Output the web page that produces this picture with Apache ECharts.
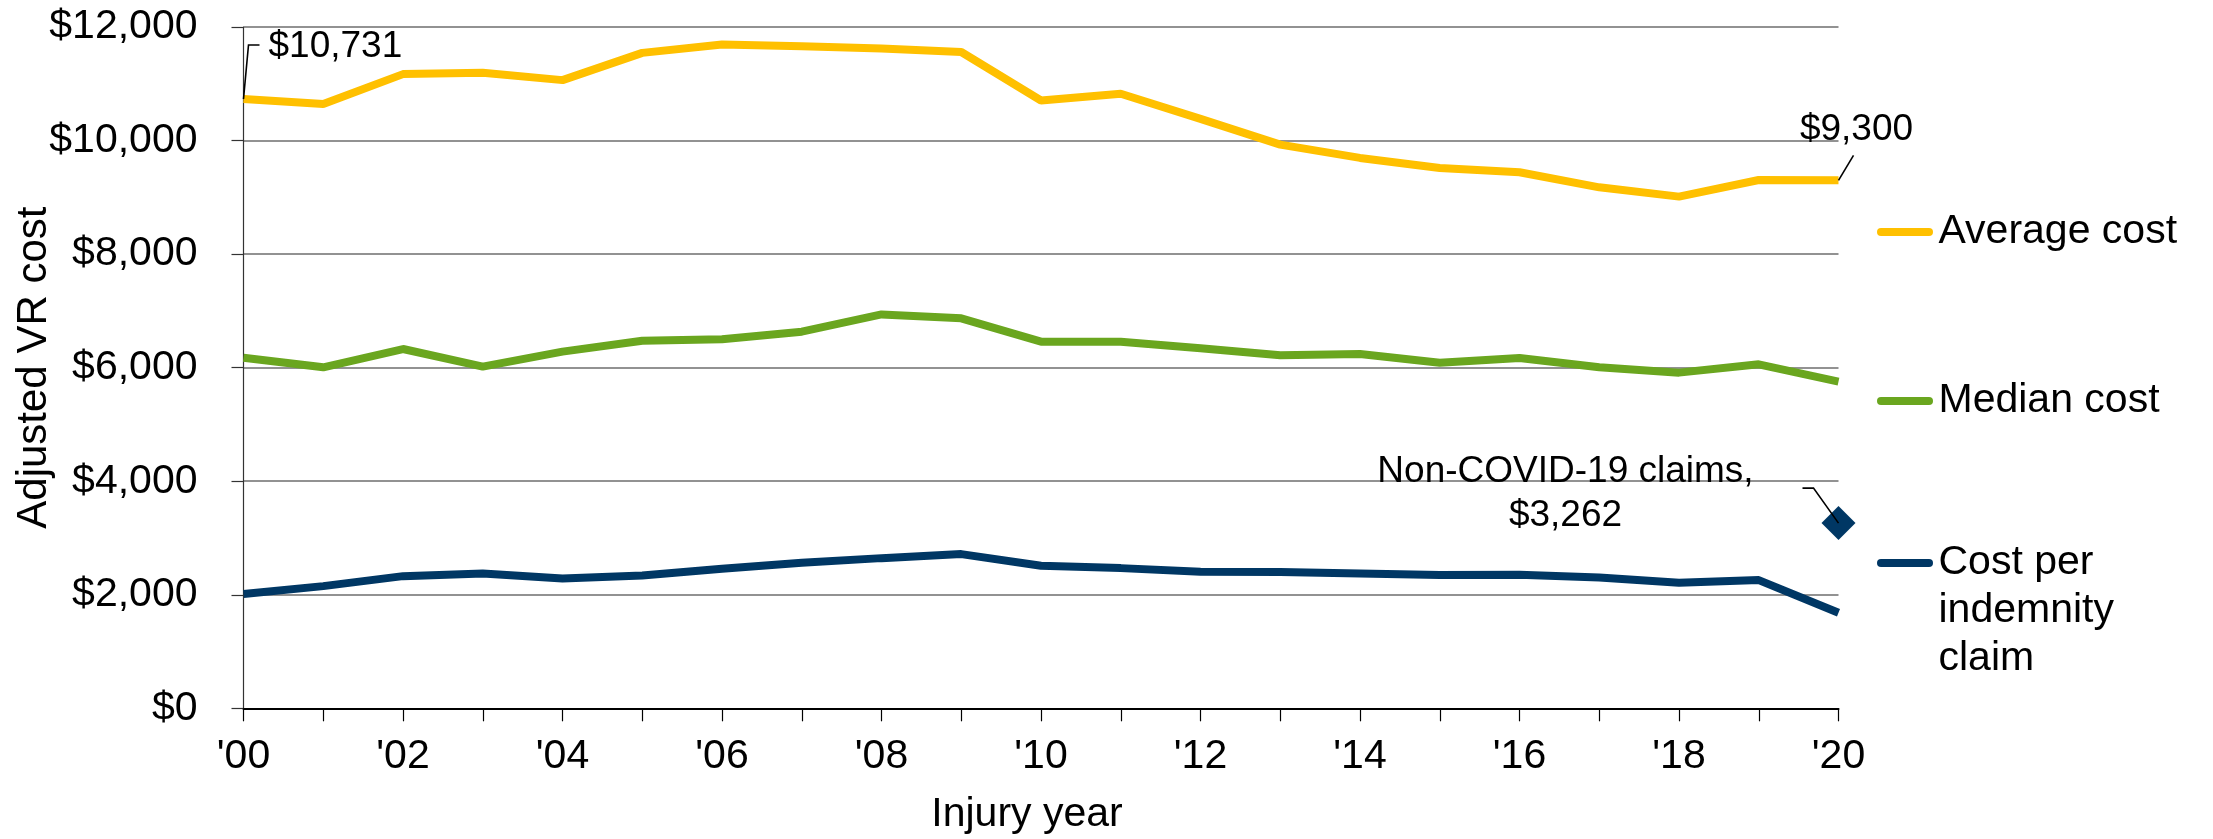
<!DOCTYPE html>
<html>
<head>
<meta charset="utf-8">
<script src="https://cdn.jsdelivr.net/npm/echarts@6/dist/echarts.min.js"></script>
<style>
  html, body { margin: 0; padding: 0; background: #fff; }
  #chart { width: 2213px; height: 839px; }
</style>
</head>
<body>
<div id="chart"></div>
<script>
var years = ["'00", "'01", "'02", "'03", "'04", "'05", "'06", "'07", "'08", "'09", "'10",
             "'11", "'12", "'13", "'14", "'15", "'16", "'17", "'18", "'19", "'20"];
var avgCost = [10731, 10643, 11170, 11193, 11064, 11544, 11690, 11661, 11620, 11559, 10706,
               10824, 10382, 9929, 9694, 9518, 9441, 9176, 9012, 9305, 9300];
var medianCost = [6176, 6006, 6328, 6018, 6282, 6475, 6499, 6634, 6938, 6868, 6457,
                  6457, 6340, 6217, 6240, 6088, 6170, 6006, 5912, 6059, 5754];
var costPerClaim = [2012, 2152, 2328, 2375, 2287, 2340, 2457, 2563, 2645, 2716, 2510,
                    2469, 2405, 2399, 2375, 2346, 2352, 2305, 2211, 2258, 1683];
var nonCovidYear = "'20";
var nonCovidValue = 3262;
var yTicks = [0, 2000, 4000, 6000, 8000, 10000, 12000];

var FONT = 'Liberation Sans, Arial, sans-serif';
var YELLOW = '#FFC000', GREEN = '#6AA61F', NAVY = '#003764';

function money(v) {
    return '$' + v.toLocaleString('en-US');
}

var myChart = echarts.init(document.getElementById('chart'));

// legend icon: short line with round ends
var lineIcon = 'path://M4,0L52,0A4,4,0,0,1,52,8L4,8A4,4,0,0,1,4,0Z';
function legendAt(name, top) {
    return {
        data: [name],
        orient: 'vertical',
        left: 1877,
        top: top,
        padding: 0,
        icon: lineIcon,
        itemWidth: 57,
        itemHeight: 8,
        selectedMode: false,
        textStyle: { fontFamily: FONT, fontSize: 41, color: '#000', lineHeight: 48 },
        formatter: function (n) {
            // two blank lines keep the icon next to the first line of the 3-line label
            if (n === 'Cost per indemnity claim') return '\n\nCost per\nindemnity\nclaim';
            return n;
        }
    };
}

var option = {
    animation: false,
    backgroundColor: '#fff',
    grid: { left: 243.5, right: 374.5, top: 27, bottom: 130.7, outerBoundsMode: 'none' },
    legend: [
        legendAt('Average cost', 208),
        legendAt('Median cost', 377),
        legendAt('Cost per indemnity claim', 443)
    ],
    xAxis: {
        type: 'category',
        data: years,
        boundaryGap: false,
        name: 'Injury year',
        nameLocation: 'middle',
        nameGap: 86,
        nameMoveOverlap: false,
        nameTextStyle: { fontFamily: FONT, fontSize: 41, color: '#000', padding: [0, 28, 0, 0] },
        axisLine: { lineStyle: { color: '#000', width: 2 } },
        axisTick: { interval: 0, length: 13, lineStyle: { color: '#000', width: 1.2 } },
        axisLabel: { interval: 1, margin: 28, fontFamily: FONT, fontSize: 41, color: '#000' },
        splitLine: { show: false }
    },
    yAxis: {
        type: 'value',
        min: yTicks[0],
        max: yTicks[yTicks.length - 1],
        interval: yTicks[1] - yTicks[0],
        name: 'Adjusted VR cost',
        nameLocation: 'middle',
        nameGap: 188,
        nameMoveOverlap: false,
        nameTextStyle: { fontFamily: FONT, fontSize: 42, color: '#000' },
        axisLine: { show: true, lineStyle: { color: '#333', width: 1.2 } },
        axisTick: { show: true, length: 12, lineStyle: { color: '#333', width: 1.2 } },
        axisLabel: { margin: 46, fontFamily: FONT, fontSize: 41, color: '#000', formatter: money },
        splitLine: { lineStyle: { color: '#6e6e6e', width: 1.5 } }
    },
    series: [
        {
            name: 'Average cost',
            type: 'line',
            data: avgCost,
            color: YELLOW,
            showSymbol: false,
            lineStyle: { color: YELLOW, width: 8 }
        },
        {
            name: 'Median cost',
            type: 'line',
            data: medianCost,
            color: GREEN,
            showSymbol: false,
            lineStyle: { color: GREEN, width: 8 }
        },
        {
            name: 'Cost per indemnity claim',
            type: 'line',
            data: costPerClaim,
            color: NAVY,
            showSymbol: false,
            lineStyle: { color: NAVY, width: 8 }
        },
        {
            name: 'Non-COVID-19 claims',
            type: 'scatter',
            data: [[nonCovidYear, nonCovidValue]],
            symbol: 'diamond',
            symbolSize: 34,
            itemStyle: { color: NAVY, opacity: 1 }
        }
    ]
};

myChart.setOption(option);

// callouts with leader lines, placed from the data points
var last = years.length - 1;
var p0 = myChart.convertToPixel({ seriesIndex: 0 }, [0, avgCost[0]]);
var p1 = myChart.convertToPixel({ seriesIndex: 0 }, [last, avgCost[last]]);
var p2 = myChart.convertToPixel({ seriesIndex: 3 }, [years.indexOf(nonCovidYear), nonCovidValue]);

function label(text, x, y, align) {
    return {
        type: 'text', z: 100,
        style: {
            text: text, x: x, y: y, fill: '#000',
            fontFamily: FONT, fontSize: 37, lineHeight: 44,
            align: align, verticalAlign: 'middle',
            textAlign: align, textVerticalAlign: 'middle'
        }
    };
}
function leader(points) {
    return {
        type: 'polyline', z: 100,
        shape: { points: points },
        style: { stroke: '#000', lineWidth: 1.6, fill: null }
    };
}

myChart.setOption({
    graphic: [
        leader([[p0[0], p0[1]], [p0[0] + 5, p0[1] - 54], [p0[0] + 16, p0[1] - 54]]),
        label(money(avgCost[0]), p0[0] + 25, p0[1] - 52, 'left'),
        leader([[p1[0], p1[1]], [p1[0] + 15, p1[1] - 25]]),
        label(money(avgCost[last]), p1[0] + 18, p1[1] - 50, 'center'),
        leader([[p2[0], p2[1]], [p2[0] - 25, p2[1] - 35], [p2[0] - 36, p2[1] - 35]]),
        label('Non-COVID-19 claims,\n' + money(nonCovidValue), p2[0] - 273, p2[1] - 29, 'center')
    ]
});
</script>
</body>
</html>
